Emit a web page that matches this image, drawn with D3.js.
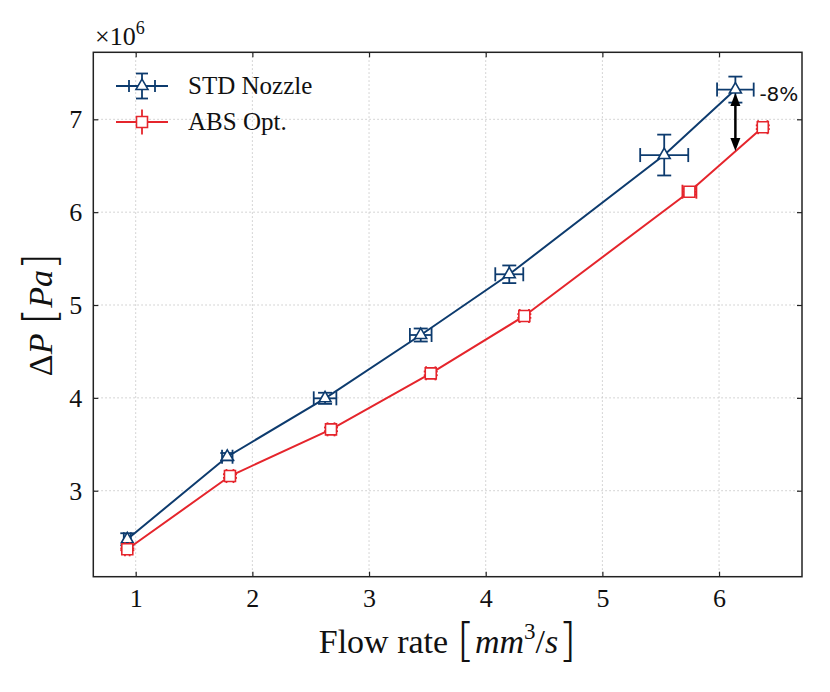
<!DOCTYPE html>
<html><head><meta charset="utf-8">
<script src="https://cdn.jsdelivr.net/npm/d3@7"></script>
<style>body{margin:0;background:#fff} .tick text{font-family:'Liberation Serif','DejaVu Serif',serif !important;font-size:26px !important;}</style>
</head><body>
<svg id="c" width="830" height="692"></svg>
<script>
// ---- data (ΔP in units of 1e6 Pa, flow in mm^3/s) ----
const stdFlow    = [0.928, 1.785, 2.623, 3.443, 4.202, 5.530, 6.140];
const stdDP      = [2.477, 3.366, 3.995, 4.677, 5.331, 6.615, 7.320];
const stdFlowErr = [0.030, 0.045, 0.097, 0.093, 0.120, 0.206, 0.157];
const stdDPErr   = [0.065, 0.040, 0.060, 0.070, 0.095, 0.220, 0.140];
const absFlow    = [0.928, 1.808, 2.674, 3.529, 4.331, 5.746, 6.375];
const absDP      = [2.369, 3.158, 3.661, 4.264, 4.882, 6.220, 6.915];
const absFlowErr = [0.020, 0.030, 0.030, 0.040, 0.040, 0.060, 0.040];
const absDPErr   = [0.010, 0.020, 0.020, 0.020, 0.020, 0.030, 0.020];
const xTicks = [1, 2, 3, 4, 5, 6];
const yTicks = [3, 4, 5, 6, 7];
const seriesNames = ["STD Nozzle", "ABS Opt."];
const arrowFlow = 6.14, arrowTop = 7.283, arrowBottom = 6.659;
const arrowLabel = "-8%";

const W = 830, H = 692;
const m = {left: 93.3, top: 52.3, right: 28, bottom: 115.3};
const iw = W - m.left - m.right, ih = H - m.top - m.bottom;
const BLUE = "#0d3b6e", RED = "#e5252c";
const SERIF = "'Liberation Serif', 'DejaVu Serif', serif";
const BRACKET = "'DejaVu Sans', sans-serif";

const svg = d3.select("#c");
const x = d3.scaleLinear().domain([0.6366, 6.711]).range([m.left, m.left + iw]);
const y = d3.scaleLinear().domain([2.074, 7.7216]).range([m.top + ih, m.top]);

// grid
const grid = svg.append("g").attr("stroke", "#c8c8c8").attr("stroke-width", 1).attr("stroke-dasharray", "1.5,2.5");
grid.selectAll(".gx").data(xTicks).join("line")
  .attr("x1", d => x(d)).attr("x2", d => x(d)).attr("y1", m.top).attr("y2", m.top + ih);
grid.selectAll(".gy").data(yTicks).join("line")
  .attr("y1", d => y(d)).attr("y2", d => y(d)).attr("x1", m.left).attr("x2", m.left + iw);

// axes (inward ticks on all sides)
const tl = 5;
function styleAxis(g, showLabels) {
  g.attr("font-family", SERIF).attr("font-size", 26);
  g.select(".domain").remove();
  g.selectAll(".tick line").attr("stroke", "#222").attr("stroke-width", 1.2);
  g.selectAll(".tick text").attr("fill", "#111");
  if (!showLabels) g.selectAll(".tick text").remove();
}
svg.append("g").attr("transform", `translate(0,${m.top + ih})`)
  .call(d3.axisBottom(x).tickValues(xTicks).tickFormat(d3.format("d")).tickSizeInner(-tl).tickSizeOuter(0).tickPadding(12))
  .call(g => styleAxis(g, true));
svg.append("g").attr("transform", `translate(0,${m.top})`)
  .call(d3.axisTop(x).tickValues(xTicks).tickSizeInner(-tl).tickSizeOuter(0))
  .call(g => styleAxis(g, false));
svg.append("g").attr("transform", `translate(${m.left},0)`)
  .call(d3.axisLeft(y).tickValues(yTicks).tickFormat(d3.format("d")).tickSizeInner(-tl).tickSizeOuter(0).tickPadding(11))
  .call(g => styleAxis(g, true));
svg.append("g").attr("transform", `translate(${m.left + iw},0)`)
  .call(d3.axisRight(y).tickValues(yTicks).tickSizeInner(-tl).tickSizeOuter(0))
  .call(g => styleAxis(g, false));

// frame
svg.append("rect").attr("x", m.left).attr("y", m.top).attr("width", iw).attr("height", ih)
  .attr("fill", "none").attr("stroke", "#222").attr("stroke-width", 1.5);

// series
const series = [
  {name: seriesNames[0], color: BLUE, fx: stdFlow, fy: stdDP, ex: stdFlowErr, ey: stdDPErr, sym: d3.symbolTriangle, size: 62},
  {name: seriesNames[1], color: RED,  fx: absFlow, fy: absDP, ex: absFlowErr, ey: absDPErr, sym: d3.symbolSquare,   size: 121}
];
const cap = 7;
series.forEach(s => {
  const pts = s.fx.map((v, i) => ({x: v, y: s.fy[i], ex: s.ex[i], ey: s.ey[i]}));
  svg.append("path").datum(pts)
    .attr("d", d3.line().x(d => x(d.x)).y(d => y(d.y)))
    .attr("fill", "none").attr("stroke", s.color).attr("stroke-width", 2);
  const eb = svg.append("g").attr("stroke", s.color).attr("stroke-width", 1.8).attr("fill", "none");
  const g = eb.selectAll("g").data(pts).join("g");
  g.append("line").attr("x1", d => x(d.x - d.ex)).attr("x2", d => x(d.x + d.ex)).attr("y1", d => y(d.y)).attr("y2", d => y(d.y));
  g.append("line").attr("x1", d => x(d.x - d.ex)).attr("x2", d => x(d.x - d.ex)).attr("y1", d => y(d.y) - cap).attr("y2", d => y(d.y) + cap);
  g.append("line").attr("x1", d => x(d.x + d.ex)).attr("x2", d => x(d.x + d.ex)).attr("y1", d => y(d.y) - cap).attr("y2", d => y(d.y) + cap);
  g.append("line").attr("x1", d => x(d.x)).attr("x2", d => x(d.x)).attr("y1", d => y(d.y - d.ey)).attr("y2", d => y(d.y + d.ey));
  g.append("line").attr("x1", d => x(d.x) - cap).attr("x2", d => x(d.x) + cap).attr("y1", d => y(d.y - d.ey)).attr("y2", d => y(d.y - d.ey));
  g.append("line").attr("x1", d => x(d.x) - cap).attr("x2", d => x(d.x) + cap).attr("y1", d => y(d.y + d.ey)).attr("y2", d => y(d.y + d.ey));
  svg.append("g").selectAll("path").data(pts).join("path")
    .attr("transform", d => `translate(${x(d.x)},${y(d.y)})`)
    .attr("d", d3.symbol().type(s.sym).size(s.size))
    .attr("fill", "#fff").attr("stroke", s.color).attr("stroke-width", 1.6);
});

// annotation arrow
const ax = x(arrowFlow), ay1 = y(arrowTop), ay2 = y(arrowBottom);
const hl = 13, hw = 5;
svg.append("line").attr("x1", ax).attr("x2", ax).attr("y1", ay1 + hl - 2).attr("y2", ay2 - hl + 2)
  .attr("stroke", "#000").attr("stroke-width", 2.5);
svg.append("path").attr("d", `M${ax},${ay1} L${ax - hw},${ay1 + hl} L${ax + hw},${ay1 + hl} Z`).attr("fill", "#000");
svg.append("path").attr("d", `M${ax},${ay2} L${ax - hw},${ay2 - hl} L${ax + hw},${ay2 - hl} Z`).attr("fill", "#000");
svg.append("text").attr("x", ax + 24).attr("y", ay1 + 7.5)
  .style("font-family", "'DejaVu Sans', sans-serif").style("font-size", "20px").attr("fill", "#111")
  .text(arrowLabel);

// legend
const lg = svg.append("g");
const lx = 142, lys = [86, 122];
series.forEach((s, i) => {
  const ly = lys[i];
  const g = lg.append("g").attr("stroke", s.color).attr("stroke-width", 1.8).attr("fill", "none");
  g.append("line").attr("x1", lx - 26).attr("x2", lx + 26).attr("y1", ly).attr("y2", ly);
  g.append("line").attr("x1", lx).attr("x2", lx).attr("y1", ly - 12.5).attr("y2", ly + 12.5);
  if (i === 0) {
    g.append("line").attr("x1", lx - 13).attr("x2", lx - 13).attr("y1", ly - 6).attr("y2", ly + 6);
    g.append("line").attr("x1", lx + 13).attr("x2", lx + 13).attr("y1", ly - 6).attr("y2", ly + 6);
    g.append("line").attr("x1", lx - 6).attr("x2", lx + 6).attr("y1", ly - 12.5).attr("y2", ly - 12.5);
    g.append("line").attr("x1", lx - 6).attr("x2", lx + 6).attr("y1", ly + 12.5).attr("y2", ly + 12.5);
  }
  lg.append("path").attr("transform", `translate(${lx},${ly})`)
    .attr("d", d3.symbol().type(s.sym).size(s.size))
    .attr("fill", "#fff").attr("stroke", s.color).attr("stroke-width", 1.6);
  lg.append("text").attr("x", 188).attr("y", ly + 8)
    .style("font-family", SERIF).style("font-size", "25px").attr("fill", "#111").text(s.name);
});

// multiplier
const mt = svg.append("text").attr("x", 95).attr("y", 45)
  .attr("font-family", SERIF).attr("font-size", 26).attr("fill", "#111");
mt.append("tspan").text("×10");
mt.append("tspan").attr("dy", -11).attr("font-size", 18).text("6");

// x label
const xl = svg.append("text").attr("x", m.left + iw / 2).attr("y", 653).attr("text-anchor", "middle")
  .style("font-family", SERIF).style("font-size", "34px").attr("fill", "#111");
xl.append("tspan").text("Flow rate ");
xl.append("tspan").style("font-family", BRACKET).style("font-weight", "200").style("font-size", "47px").attr("dy", 3).text("[");
xl.append("tspan").attr("dy", -3).style("font-style", "italic").text("mm");
xl.append("tspan").attr("dy", -14).style("font-size", "23px").text("3");
xl.append("tspan").attr("dy", 14).text("/");
xl.append("tspan").style("font-style", "italic").text("s");
xl.append("tspan").style("font-family", BRACKET).style("font-weight", "200").style("font-size", "47px").attr("dy", 3).text("]");

// y label
const yl = svg.append("text").attr("transform", `translate(52,${m.top + ih / 2}) rotate(-90)`)
  .attr("text-anchor", "middle")
  .style("font-family", SERIF).style("font-size", "34px").attr("fill", "#111");
yl.append("tspan").text("Δ");
yl.append("tspan").style("font-style", "italic").text("P");
yl.append("tspan").text(" ");
yl.append("tspan").style("font-family", BRACKET).style("font-weight", "200").style("font-size", "44px").attr("dy", 3).text("[");
yl.append("tspan").attr("dy", -3).style("font-style", "italic").text("Pa");
yl.append("tspan").style("font-family", BRACKET).style("font-weight", "200").style("font-size", "44px").attr("dy", 3).text("]");
</script>
</body></html>
